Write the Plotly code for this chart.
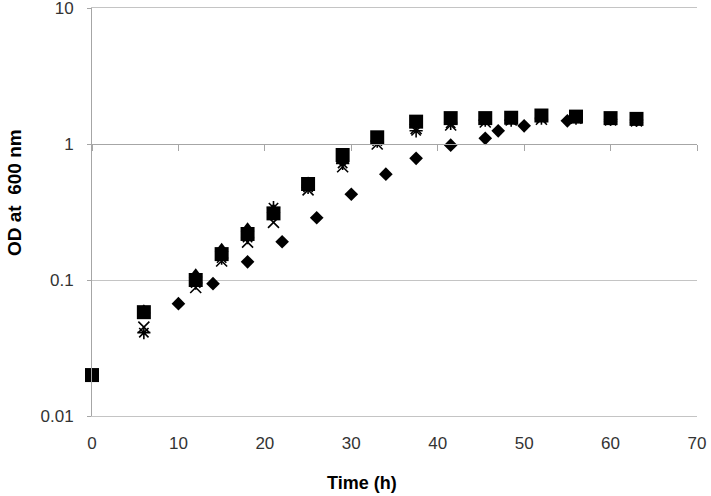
import plotly.graph_objects as go

# ---- data ----
t_diamond = [0, 10, 14, 18, 22, 26, 30, 34, 37.5, 41.5, 45.5, 47, 50, 55, 60, 63]
od_diamond = [0.02, 0.067, 0.094, 0.136, 0.191, 0.287, 0.427, 0.60, 0.785, 0.98, 1.10, 1.25, 1.36, 1.48, 1.52, 1.50]

t_common = [0, 6, 12, 15, 18, 21, 25, 29, 33, 37.5, 41.5, 45.5, 48.5, 52, 56, 60, 63]
od_square = [0.02, 0.058, 0.10, 0.155, 0.218, 0.309, 0.508, 0.83, 1.12, 1.46, 1.55, 1.55, 1.56, 1.62, 1.59, 1.55, 1.53]
od_triangle = [0.02, 0.060, 0.11, 0.17, 0.24, 0.33, 0.52, 0.76, 1.10, 1.45, 1.52, 1.55, 1.55, 1.60, 1.58, 1.54, 1.50]
od_x = [0.02, 0.045, 0.088, 0.138, 0.19, 0.265, 0.46, 0.68, 1.00, 1.30, 1.38, 1.45, 1.50, 1.52, 1.55, 1.50, 1.48]
od_star = [0.02, 0.041, 0.095, 0.145, 0.205, 0.34, 0.48, 0.72, 1.05, 1.25, 1.42, 1.50, 1.50, 1.55, 1.55, 1.52, 1.50]

x_ticks = [0, 10, 20, 30, 40, 50, 60, 70]
y_ticks = [0.01, 0.1, 1, 10]
y_tick_text = ["0.01", "0.1", "1", "10"]

GRID = "#c4c4c4"
AXIS = "#a6a6a6"
L, R, T, B = 92, 697, 8, 416

fig = go.Figure()

fig.add_trace(go.Scatter(x=t_diamond, y=od_diamond, mode="markers", cliponaxis=False,
                         marker=dict(symbol="diamond", size=10.5, color="black")))
fig.add_trace(go.Scatter(x=t_common, y=od_star, mode="markers", cliponaxis=False,
                         marker=dict(symbol="asterisk-open", size=11, color="black",
                                     line=dict(color="black", width=1.6))))
fig.add_trace(go.Scatter(x=t_common, y=od_x, mode="markers", cliponaxis=False,
                         marker=dict(symbol="x-thin-open", size=11, color="black",
                                     line=dict(color="black", width=1.6))))
fig.add_trace(go.Scatter(x=t_common, y=od_triangle, mode="markers", cliponaxis=False,
                         marker=dict(symbol="triangle-up", size=12, color="black")))
fig.add_trace(go.Scatter(x=t_common, y=od_square, mode="markers", cliponaxis=False,
                         marker=dict(symbol="square", size=14, color="black")))
# helper axis that carries the tick marks at OD = 1 (Excel log-axis crossing)
fig.add_trace(go.Scatter(x=[], y=[], xaxis="x2", mode="markers", showlegend=False,
                         hoverinfo="skip"))

fig.update_layout(
    width=711, height=496,
    margin=dict(l=L, r=711 - R, t=T, b=496 - B, autoexpand=False),
    paper_bgcolor="white", plot_bgcolor="white",
    showlegend=False,
    font=dict(family="Liberation Sans, Arial, sans-serif", size=17, color="#222222"),
    xaxis=dict(range=[0, 70], tickvals=x_ticks, showgrid=False, zeroline=False,
               showline=True, mirror=True, linecolor=GRID, linewidth=1, ticks="",
               automargin=False, ticklabelstandoff=12, ticklabeloverflow="allow",
               tickfont=dict(size=17, color="#333333")),
    xaxis2=dict(range=[0, 70], tickvals=x_ticks, overlaying="x", anchor="free",
                position=2/3, side="bottom", showgrid=False, zeroline=False,
                showline=True, linecolor=AXIS, linewidth=1, ticks="outside",
                ticklen=6, tickcolor=AXIS, showticklabels=False, automargin=False),
    yaxis=dict(type="log", range=[-2, 1], tickvals=y_ticks, ticktext=y_tick_text,
               showgrid=True, gridcolor=GRID, gridwidth=1, zeroline=False,
               showline=True, linecolor=AXIS, linewidth=1, ticks="outside",
               ticklen=4, tickcolor=AXIS, automargin=False, ticklabeloverflow="allow",
               ticklabelstandoff=10, tickfont=dict(size=17, color="#333333")),
    annotations=[
        dict(text="<b>Time (h)</b>", xref="paper", yref="paper",
             x=(362 - L) / (R - L), y=-(483 - B) / (B - T), xanchor="center", yanchor="middle",
             showarrow=False,
             font=dict(family="Liberation Sans Narrow, Arial Narrow, Liberation Sans",
                       size=18, color="black")),
        dict(text="<b>OD at  600 nm</b>", xref="paper", yref="paper",
             x=-(L - 14) / (R - L), y=(B - 193) / (B - T), xanchor="center", yanchor="middle",
             textangle=-90, showarrow=False,
             font=dict(family="Liberation Sans, Arial", size=19, color="black")),
    ],
)

fig.write_html("out.html", config={"displayModeBar": False},
               post_script="document.body.style.margin='0px';")
